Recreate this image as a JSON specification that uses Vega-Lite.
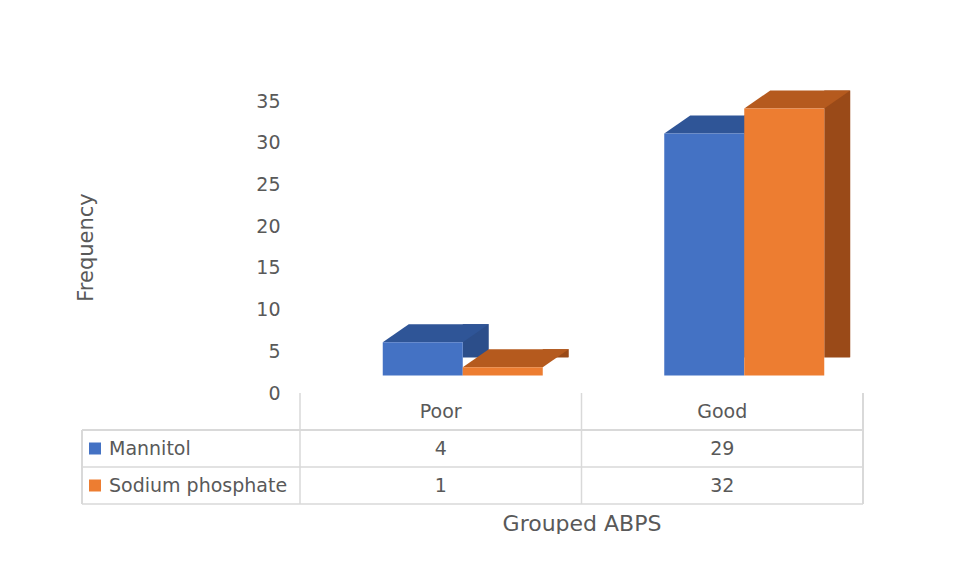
{
  "$schema": "https://vega.github.io/schema/vega-lite/v6.json",
  "padding": {"left": 75, "top": 90, "right": 0, "bottom": 0},
  "spacing": 0,
  "bounds": "flush",
  "background": "white",
  "datasets": {
    "bars": [
      {"group": "Poor", "series": "Mannitol", "value": 4},
      {"group": "Poor", "series": "Sodium phosphate", "value": 1},
      {"group": "Good", "series": "Mannitol", "value": 29},
      {"group": "Good", "series": "Sodium phosphate", "value": 32}
    ]
  },
  "vconcat": [
    {
      "width": 563,
      "height": 292,
      "data": {"name": "bars"},
      "encoding": {
        "x": {"field": "group", "type": "nominal", "scale": {"domain": ["Poor", "Good"], "paddingInner": 0, "paddingOuter": 0}, "axis": null},
        "y": {"field": "value", "type": "quantitative", "title": "Frequency", "scale": {"domain": [0, 35], "nice": false}, "axis": {"values": [0, 5, 10, 15, 20, 25, 30, 35], "labelPadding": 20, "tickSize": 0, "titlePadding": 159, "titleFont": "DejaVu Sans", "titleFontSize": 21}}
      },
      "layer": [
        {
          "transform": [{"filter": "datum.series === 'Mannitol'"}],
          "mark": {"type": "bar", "width": 26, "xOffset": 35, "yOffset": -35.5, "y2Offset": -17.5, "color": "#2C4E8A"}
        },
        {
          "transform": [{"filter": "datum.series === 'Sodium phosphate'"}],
          "mark": {"type": "bar", "width": 26, "xOffset": 115, "yOffset": -35.5, "y2Offset": -17.5, "color": "#9A4A18"}
        },
        {
          "transform": [{"filter": "datum.series === 'Mannitol'"}],
          "mark": {"type": "point", "shape": "M40,0L66,-18L69,-18L69,3L40,3Z", "size": 4, "filled": true, "opacity": 1, "strokeWidth": 0, "color": "white", "xOffset": -18, "yOffset": -17.5},
          "encoding": {"y": {"datum": 0, "type": "quantitative", "title": "Frequency"}}
        },
        {
          "transform": [{"filter": "datum.series === 'Sodium phosphate'"}],
          "mark": {"type": "point", "shape": "M40,0L66,-18L69,-18L69,3L40,3Z", "size": 4, "filled": true, "opacity": 1, "strokeWidth": 0, "color": "white", "xOffset": 62, "yOffset": -17.5},
          "encoding": {"y": {"datum": 0, "type": "quantitative", "title": "Frequency"}}
        },
        {
          "transform": [{"filter": "datum.series === 'Mannitol'"}],
          "mark": {"type": "point", "shape": "M-40,0L40,0L66,-18L-14,-18Z", "size": 4, "filled": true, "opacity": 1, "strokeWidth": 0, "color": "#2F5597", "xOffset": -18, "yOffset": -17.5}
        },
        {
          "transform": [{"filter": "datum.series === 'Sodium phosphate'"}],
          "mark": {"type": "point", "shape": "M-40,0L40,0L66,-18L-14,-18Z", "size": 4, "filled": true, "opacity": 1, "strokeWidth": 0, "color": "#B55A1E", "xOffset": 62, "yOffset": -17.5}
        },
        {
          "transform": [{"filter": "datum.series === 'Mannitol'"}],
          "mark": {"type": "bar", "width": 80, "xOffset": -18, "yOffset": -17.5, "y2Offset": -17.5, "color": "#4472C4"}
        },
        {
          "transform": [{"filter": "datum.series === 'Sodium phosphate'"}],
          "mark": {"type": "bar", "width": 80, "xOffset": 62, "yOffset": -17.5, "y2Offset": -17.5, "color": "#ED7D31"}
        }
      ]
    },
    {
      "width": 563,
      "height": 111,
      "data": {"name": "bars"},
      "layer": [
        {
          "transform": [{"filter": "datum.series === 'Mannitol'"}],
          "mark": {"type": "rule", "color": "#D9D9D9", "strokeWidth": 1.5},
          "encoding": {
            "x": {"field": "group", "type": "nominal", "bandPosition": 0, "title": "Grouped ABPS", "scale": {"domain": ["Poor", "Good"], "paddingInner": 0, "paddingOuter": 0}, "axis": {"labels": false, "titlePadding": 9, "titleFontSize": 22}}
          }
        },
        {
          "mark": {"type": "rule", "color": "#D9D9D9", "strokeWidth": 1.5},
          "encoding": {
            "x": {"datum": "Good", "type": "nominal", "bandPosition": 1, "title": "Grouped ABPS"}
          }
        },
        {
          "transform": [{"filter": "datum.group === 'Poor'"}],
          "mark": {"type": "rule", "color": "#D9D9D9", "strokeWidth": 1.5, "xOffset": -218, "x2Offset": 140.75},
          "encoding": {
            "x": {"datum": "Poor", "type": "nominal", "bandPosition": 0, "title": "Grouped ABPS"},
            "x2": {"datum": "Good"},
            "y": {"field": "series", "type": "nominal", "bandPosition": 1, "scale": {"domain": ["header", "Mannitol", "Sodium phosphate"], "paddingInner": 0, "paddingOuter": 0}, "axis": null}
          }
        },
        {
          "mark": {"type": "rule", "color": "#D9D9D9", "strokeWidth": 1.5, "xOffset": -218, "x2Offset": 140.75},
          "encoding": {
            "x": {"datum": "Poor", "type": "nominal", "bandPosition": 0, "title": "Grouped ABPS"},
            "x2": {"datum": "Good"},
            "y": {"datum": "header", "type": "nominal", "bandPosition": 1, "axis": null}
          }
        },
        {
          "mark": {"type": "rule", "color": "#D9D9D9", "strokeWidth": 1.5, "xOffset": -218, "y2Offset": 18.5},
          "encoding": {
            "x": {"datum": "Poor", "type": "nominal", "bandPosition": 0, "title": "Grouped ABPS"},
            "y": {"datum": "header", "type": "nominal", "bandPosition": 1, "axis": null},
            "y2": {"datum": "Sodium phosphate"}
          }
        },
        {
          "transform": [{"filter": "datum.series === 'Mannitol'"}],
          "mark": {"type": "text", "fontSize": 19, "color": "#595959", "font": "DejaVu Sans"},
          "encoding": {
            "x": {"field": "group", "type": "nominal", "title": "Grouped ABPS"},
            "y": {"datum": "header", "type": "nominal", "axis": null},
            "text": {"field": "group"}
          }
        },
        {
          "mark": {"type": "text", "fontSize": 19, "color": "#595959", "font": "DejaVu Sans"},
          "encoding": {
            "x": {"field": "group", "type": "nominal", "title": "Grouped ABPS"},
            "y": {"field": "series", "type": "nominal", "axis": null},
            "text": {"field": "value"}
          }
        },
        {
          "transform": [{"filter": "datum.group === 'Poor'"}],
          "mark": {"type": "text", "fontSize": 19, "color": "#595959", "font": "DejaVu Sans", "align": "left", "dx": -331.75},
          "encoding": {
            "x": {"field": "group", "type": "nominal", "title": "Grouped ABPS"},
            "y": {"field": "series", "type": "nominal", "axis": null},
            "text": {"field": "series"}
          }
        },
        {
          "transform": [{"filter": "datum.group === 'Poor'"}],
          "mark": {"type": "point", "shape": "square", "size": 144, "filled": true, "opacity": 1, "strokeWidth": 0, "xOffset": -345.75},
          "encoding": {
            "x": {"field": "group", "type": "nominal", "title": "Grouped ABPS"},
            "y": {"field": "series", "type": "nominal", "axis": null},
            "color": {"field": "series", "type": "nominal", "scale": {"domain": ["Mannitol", "Sodium phosphate"], "range": ["#4472C4", "#ED7D31"]}, "legend": null}
          }
        }
      ]
    }
  ],
  "config": {
    "font": "DejaVu Sans",
    "view": {"stroke": null},
    "axis": {
      "labelFont": "DejaVu Sans",
      "labelFontSize": 19,
      "labelColor": "#595959",
      "titleFont": "DejaVu Sans",
      "titleFontWeight": "normal",
      "titleColor": "#595959",
      "grid": false,
      "domain": false,
      "ticks": false
    }
  }
}
